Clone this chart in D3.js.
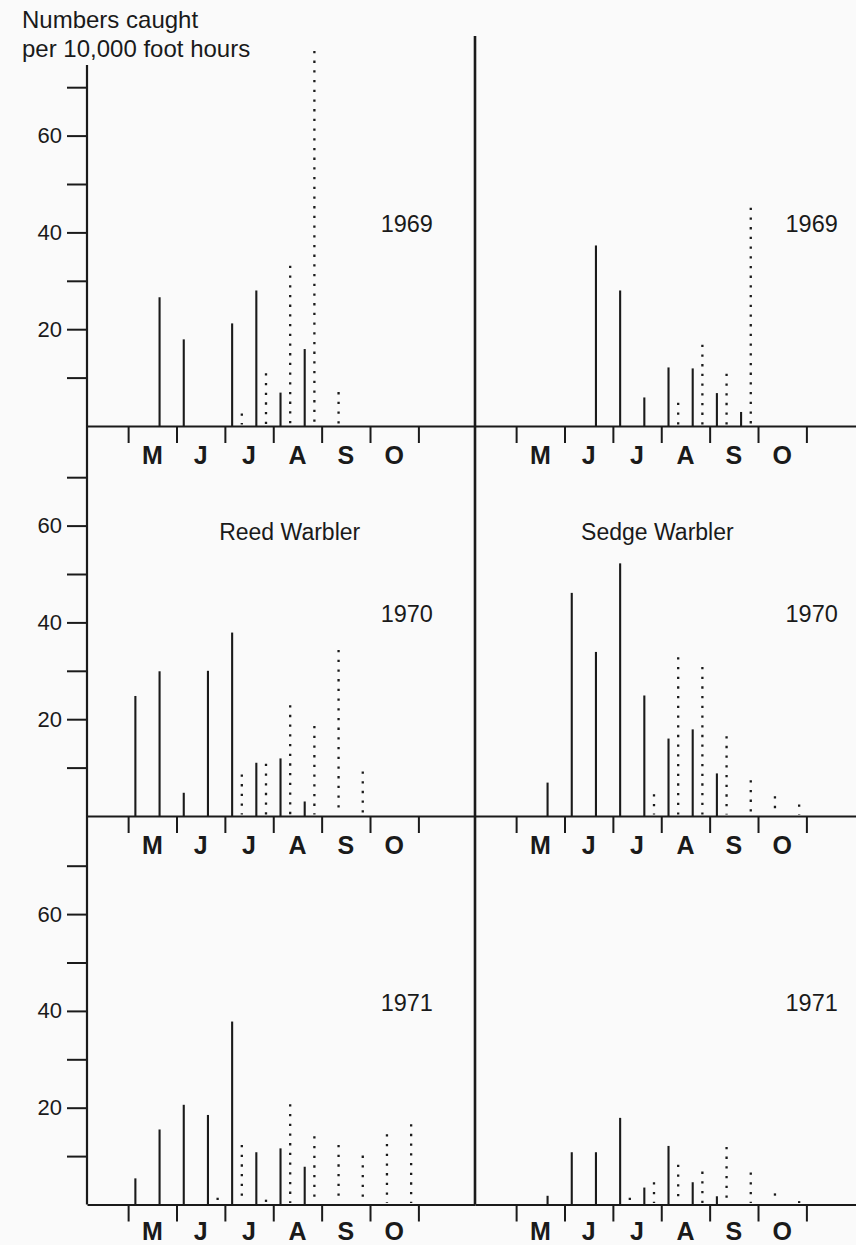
<!DOCTYPE html>
<html>
<head>
<meta charset="utf-8">
<script src="https://cdn.jsdelivr.net/npm/d3@7"></script>
<style>
  html, body { margin: 0; padding: 0; background: #fafafa; }
  svg { display: block; }
  text { font-family: "Liberation Sans", Arial, Helvetica, sans-serif; fill: #1a1a1a; }
</style>
</head>
<body>
<svg id="chart" width="856" height="1245"></svg>
<script>
// Half-month catching periods, May to October
const halfMonths = ["1-15 May", "16-31 May", "1-15 Jun", "16-30 Jun", "1-15 Jul", "16-31 Jul",
                    "1-15 Aug", "16-31 Aug", "1-15 Sep", "16-30 Sep", "1-15 Oct", "16-31 Oct"];
const monthLabels = ["M", "J", "J", "A", "S", "O"];
const years = [1969, 1970, 1971];
const species = ["Reed Warbler", "Sedge Warbler"];
const yTicks = [10, 20, 30, 40, 50, 60, 70];
const yTickLabels = [20, 40, 60];

// Numbers caught per 10,000 foot hours in each half-month (null = none caught)
// solid spikes = adults, dotted spikes = juveniles
const reed1969Adults    = [null, 26.6, 17.9, null, 21.2, 28.0, 6.9, 15.9, null, null, null, null];
const reed1969Juveniles = [null, null, null, null, 2.6, 10.9, 33.1, 77.5, 7.0, null, null, null];
const sedge1969Adults    = [null, null, null, 37.3, 28.0, 5.9, 12.1, 11.9, 6.8, 2.9, null, null];
const sedge1969Juveniles = [null, null, null, null, null, null, 4.8, 16.8, 10.8, 45.1, null, null];

const reed1970Adults    = [24.8, 29.9, 4.8, 30.0, 37.9, 11.0, 11.9, 3.0, null, null, null, null];
const reed1970Juveniles = [null, null, null, null, 8.6, 10.8, 22.9, 18.6, 34.3, 9.2, null, null];
const sedge1970Adults    = [null, 6.9, 46.1, 33.9, 52.2, 24.9, 16.0, 17.9, 8.8, null, null, null];
const sedge1970Juveniles = [null, null, null, null, null, 4.5, 32.8, 30.8, 16.5, 7.4, 4.1, 2.4];

const reed1971Adults    = [5.4, 15.5, 20.6, 18.5, 37.8, 10.8, 11.6, 7.8, null, null, null, null];
const reed1971Juveniles = [null, null, null, 1.4, 12.3, 1.0, 20.7, 14.1, 12.3, 10.1, 14.5, 16.6];
const sedge1971Adults    = [null, 1.8, 10.8, 10.8, 17.9, 3.5, 12.1, 4.6, 1.7, null, null, null];
const sedge1971Juveniles = [null, null, null, null, 1.4, 4.6, 8.2, 6.8, 11.9, 6.6, 2.3, 0.7];

const panels = [
  { year: 1969, col: 0, adults: reed1969Adults,  juveniles: reed1969Juveniles },
  { year: 1969, col: 1, adults: sedge1969Adults, juveniles: sedge1969Juveniles },
  { year: 1970, col: 0, adults: reed1970Adults,  juveniles: reed1970Juveniles },
  { year: 1970, col: 1, adults: sedge1970Adults, juveniles: sedge1970Juveniles },
  { year: 1971, col: 0, adults: reed1971Adults,  juveniles: reed1971Juveniles },
  { year: 1971, col: 1, adults: sedge1971Adults, juveniles: sedge1971Juveniles }
];

// ---- layout ----
const ink = "#1a1a1a";
const rowBase = [426, 816, 1204.5];   // zero line of each year's row
const monthLabelDrop = [38, 38, 35];  // month letters sit below each zero line
const colLeft = [87, 475];            // left edge (vertical axis) of each column
const colWidth = 388;
const unitPx = 4.84;                  // pixels per unit caught

const svg = d3.select("#chart");

// month scale: 0 = 1 May, 6 = 1 November
const xScales = colLeft.map(x0 =>
  d3.scaleLinear().domain([-0.85, 7.17]).range([x0, x0 + colWidth]));
const yScales = rowBase.map(b =>
  d3.scaleLinear().domain([0, 80]).range([b, b - 80 * unitPx]));

// vertical axis on the left, running through all three rows
svg.append("line")
  .attr("x1", colLeft[0]).attr("x2", colLeft[0])
  .attr("y1", 65).attr("y2", rowBase[2])
  .attr("stroke", ink).attr("stroke-width", 2.2);

// divider between the two species, doubling as the second vertical axis
svg.append("line")
  .attr("x1", colLeft[1]).attr("x2", colLeft[1])
  .attr("y1", 36).attr("y2", rowBase[2])
  .attr("stroke", ink).attr("stroke-width", 2.6);

// value ticks for each row
yScales.forEach(y => {
  const g = svg.append("g").attr("transform", `translate(${colLeft[0]},0)`)
    .call(d3.axisLeft(y).tickValues(yTicks).tickSize(20).tickPadding(5)
      .tickFormat(d => yTickLabels.includes(d) ? d : ""));
  g.select(".domain").remove();
  g.selectAll(".tick line").attr("stroke", ink).attr("stroke-width", 2);
  g.selectAll(".tick text")
    .attr("fill", ink)
    .style("font-size", "22px")
    .style("font-family", "'Liberation Sans', Arial, sans-serif");
});

// month axes along each zero line
rowBase.forEach((b, r) => {
  xScales.forEach((x, c) => {
    const g = svg.append("g").attr("transform", `translate(0,${b})`)
      .call(d3.axisBottom(x).tickValues(d3.range(0, 7)).tickSize(17)
        .tickSizeOuter(0).tickFormat(""));
    g.select(".domain").attr("stroke", ink).attr("stroke-width", 2.2);
    g.selectAll(".tick line").attr("stroke", ink).attr("stroke-width", 2);

    svg.append("g").selectAll("text").data(monthLabels).join("text")
      .attr("x", (d, i) => x(i + 0.5))
      .attr("y", b + monthLabelDrop[r])
      .attr("text-anchor", "middle")
      .style("font-size", "25px")
      .style("font-weight", "bold")
      .text(d => d);
  });
});

// spikes
panels.forEach(p => {
  const r = years.indexOf(p.year);
  const x = xScales[p.col];
  const y = yScales[r];
  const g = svg.append("g");

  const adults = p.adults.map((v, i) => ({ i, v })).filter(d => d.v != null);
  g.selectAll("line.adult").data(adults).join("line")
    .attr("class", "adult")
    .attr("x1", d => x(d.i * 0.5 + 0.15)).attr("x2", d => x(d.i * 0.5 + 0.15))
    .attr("y1", y(0)).attr("y2", d => y(d.v))
    .attr("stroke", ink).attr("stroke-width", 2.1);

  const juveniles = p.juveniles.map((v, i) => ({ i, v })).filter(d => d.v != null);
  g.selectAll("line.juvenile").data(juveniles).join("line")
    .attr("class", "juvenile")
    .attr("x1", d => x(d.i * 0.5 + 0.35)).attr("x2", d => x(d.i * 0.5 + 0.35))
    .attr("y1", d => y(d.v)).attr("y2", y(0) - 1.5)
    .attr("stroke", ink).attr("stroke-width", 2.3)
    .attr("stroke-dasharray", "2.3 7.4");

  // year label
  g.append("text")
    .attr("x", x(p.col === 0 ? 6.3 : 6.65))
    .attr("y", y(40))
    .attr("text-anchor", "end")
    .style("font-size", "23.5px")
    .text(p.year);
});

// species names in the 1970 row
svg.append("text")
  .attr("x", xScales[0](3.34)).attr("y", yScales[1](57))
  .attr("text-anchor", "middle").style("font-size", "23px")
  .text(species[0]);
svg.append("text")
  .attr("x", xScales[1](2.92)).attr("y", yScales[1](57))
  .attr("text-anchor", "middle").style("font-size", "23px")
  .text(species[1]);

// axis title
const title = svg.append("text").attr("x", 22).attr("y", 28).style("font-size", "24px");
title.append("tspan").attr("x", 22).text("Numbers caught");
title.append("tspan").attr("x", 22).attr("dy", 29).text("per 10,000 foot hours");
</script>
</body>
</html>
